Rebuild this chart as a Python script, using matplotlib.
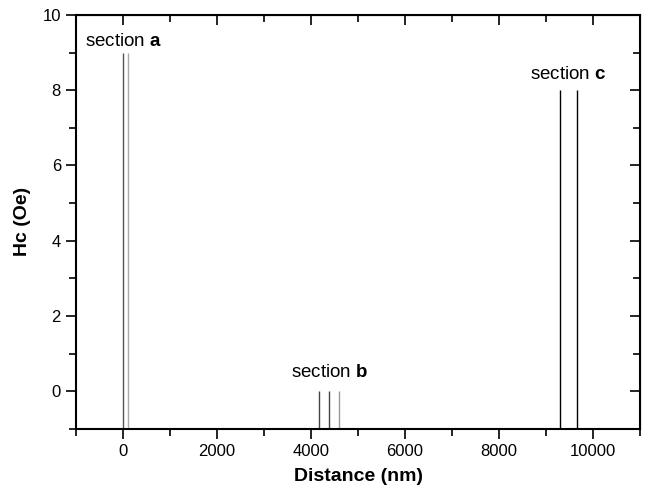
import matplotlib
matplotlib.use("Agg")
import matplotlib.pyplot as plt
from matplotlib.ticker import MultipleLocator

plt.rcParams.update({
    "font.family": "Liberation Sans",
    "mathtext.fontset": "custom",
    "mathtext.rm": "Liberation Sans",
    "mathtext.bf": "Liberation Sans:bold",
})

# ── Data ──────────────────────────────────────────────────────────────────────
dist_a = [0, 100]
hc_a = [9, 9]
colors_a = ["#555555", "#aaaaaa"]

dist_b = [4170, 4385, 4595]
hc_b = [0, 0, 0]
colors_b = ["#444444", "#444444", "#999999"]

dist_c = [9290, 9650]
hc_c = [8, 8]
colors_c = ["#000000", "#000000"]

x_ticks = [0, 2000, 4000, 6000, 8000, 10000]
y_ticks = [0, 2, 4, 6, 8, 10]

Y_BASE = -1

fig = plt.figure(figsize=(6.51, 4.97), dpi=100)
ax = fig.add_axes([0.117, 0.137, 0.866, 0.833])

for xs, ys, cs in [(dist_a, hc_a, colors_a), (dist_b, hc_b, colors_b), (dist_c, hc_c, colors_c)]:
    ax.vlines(xs, Y_BASE, ys, colors=cs, linewidth=1.0)

ax.text(0, 9.17, r"section $\mathbf{a}$", ha="center", va="baseline", fontsize=13.5)
ax.text(4400, 0.37, r"section $\mathbf{b}$", ha="center", va="baseline", fontsize=13.5)
ax.text(9470, 8.29, r"section $\mathbf{c}$", ha="center", va="baseline", fontsize=13.5)

ax.set_xlim(-1000, 11000)
ax.set_ylim(-1, 10)
ax.set_xticks(x_ticks)
ax.set_yticks(y_ticks)
ax.xaxis.set_minor_locator(MultipleLocator(1000))
ax.yaxis.set_minor_locator(MultipleLocator(1))
ax.tick_params(which="both", direction="out", labelsize=12, width=1.2, pad=4)
ax.tick_params(which="major", length=7)
ax.tick_params(which="minor", length=5)

# mirrored ticks on top / right, pointing inward
sec_x = ax.secondary_xaxis("top")
sec_x.set_xticks(x_ticks)
sec_x.xaxis.set_minor_locator(MultipleLocator(1000))
sec_x.tick_params(which="both", direction="in", labeltop=False, width=1.2)
sec_x.tick_params(which="major", length=7)
sec_x.tick_params(which="minor", length=5)

sec_y = ax.secondary_yaxis("right")
sec_y.set_yticks(y_ticks)
sec_y.yaxis.set_minor_locator(MultipleLocator(1))
sec_y.tick_params(which="both", direction="in", labelright=False, width=1.2)
sec_y.tick_params(which="major", length=7)
sec_y.tick_params(which="minor", length=5)

for s in ax.spines.values():
    s.set_linewidth(1.5)

ax.set_xlabel("Distance (nm)", fontsize=14, fontweight="bold", labelpad=6)
ax.set_ylabel("Hc (Oe)", fontsize=14, fontweight="bold", labelpad=8)

fig.savefig("out.png", dpi=100)
